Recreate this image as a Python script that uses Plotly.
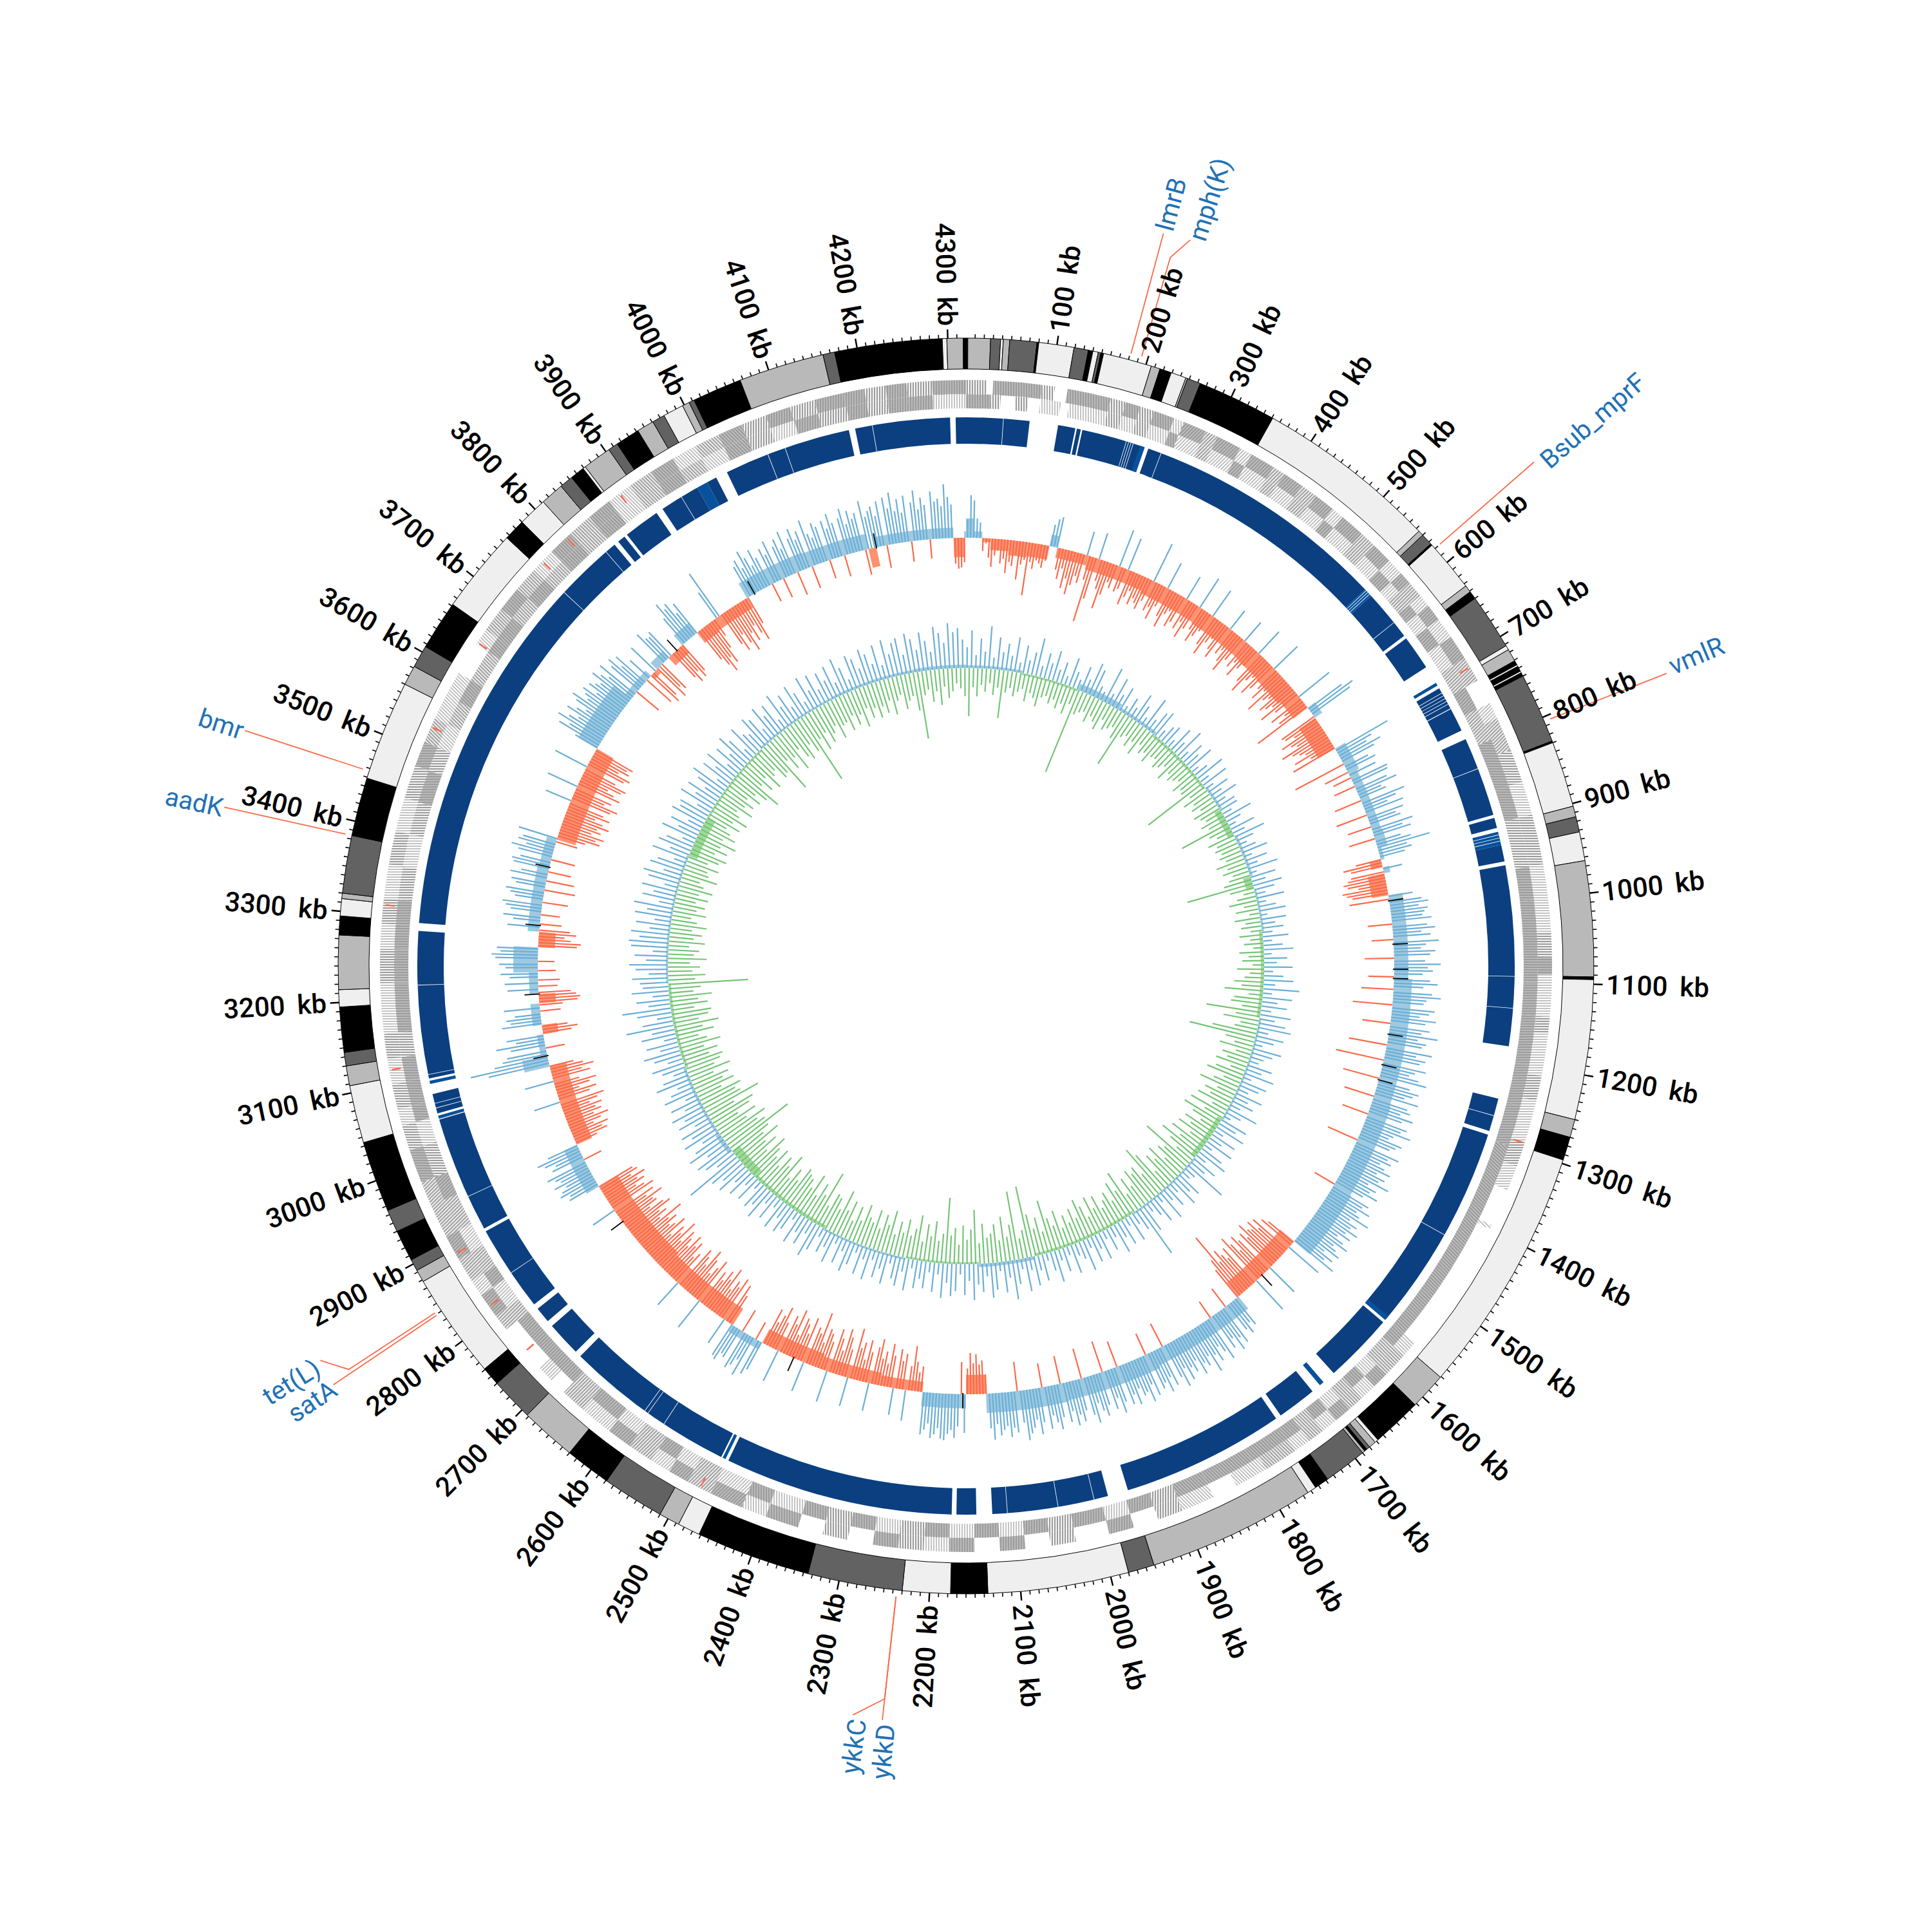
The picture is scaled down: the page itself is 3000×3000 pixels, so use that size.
import math
import plotly.graph_objects as go

GENOME_KB = 4320
TICK_LABELS_KB = list(range(100, 4301, 100))

# outer karyotype ring: segment ends (kb) and shade code
BAND_END = [2,27,38,41,48,78,80,119,135,140,146,149,152,206,216,229,246,248,263,351,554,560,573,575,633,641,650,712,717,731,736,738,744,746,750,828,830,903,915,932,964,1092,1095,1250,1270,1296,1571,1612,1668,1672,1680,1684,1687,1690,1738,1754,1764,1951,1980,2136,2177,2230,2335,2462,2487,2510,2579,2630,2692,2740,2761,2878,2892,2905,2940,2965,3044,3108,3130,3145,3195,3214,3274,3295,3314,3320,3384,3449,3560,3582,3607,3662,3756,3780,3812,3838,3853,3869,3872,3904,3915,3942,3961,3975,3998,4006,4012,4067,4162,4175,4180,4294,4299,4317,4320]
BAND_SHADE = ["k","m","d","l","m","d","k","l","d","k","l","d","k","l","m","k","l","m","d","k","l","m","d","k","l","m","k","d","l","m","k","l","k","l","k","d","k","l","m","d","l","m","k","l","m","k","l","m","k","l","m","d","k","m","d","k","l","m","d","l","k","l","d","k","l","m","d","k","m","d","k","l","m","d","k","d","k","l","m","d","k","l","m","k","l","m","d","k","l","m","d","k","l","k","l","m","d","k","l","m","d","k","m","d","l","m","d","k","m","d","k","k","l","m","k"]
SHADES = {"k": "#000000", "d": "#626262", "m": "#b9b9b9", "l": "#efefef"}

# gene density runs (kb end, density 0..3) on the two strands
OUT_END = [25,32,90,105,120,172,190,208,225,250,262,290,305,335,350,380,395,420,440,465,480,510,530,555,575,590,610,625,645,670,700,730,760,780,820,860,900,960,1040,1070,1090,1140,1160,1210,1240,1290,1320,1350,1395,1400,1560,1580,1610,1630,1650,1670,1690,1710,1730,1750,1790,1830,1860,1900,1930,1960,1990,2030,2060,2090,2120,2150,2180,2210,2240,2270,2300,2330,2360,2400,2430,2470,2500,2525,2550,2580,2610,2650,2680,2700,2720,2780,2800,2830,2850,2880,2910,2950,2980,3020,3050,3070,3100,3130,3160,3220,3260,3290,3320,3360,3400,3440,3480,3510,3540,3570,3600,3640,3660,3690,3720,3750,3780,3810,3840,3870,3900,3930,3960,3990,4020,4050,4080,4110,4140,4175,4200,4225,4250,4280,4320]
OUT_D =   [2,0,3,2,0,3,2,3,2,3,1,3,2,3,1,3,2,3,2,3,1,3,2,3,1,3,2,1,3,1,3,2,0,1,2,2,1,2,1,2,3,1,2,1,2,1,2,1,0,1,0,1,2,3,1,2,3,1,2,1,2,1,0,1,2,0,3,0,2,0,3,0,3,1,2,3,0,2,0,3,1,3,2,3,1,2,3,1,2,0,1,0,2,3,1,2,3,2,2,3,2,1,2,1,2,1,2,1,2,1,2,1,2,3,2,1,1,0,1,2,3,2,1,3,2,3,1,2,3,1,2,3,2,3,2,3,3,2,3,2,3,2,3,2,3,2,3]
IN_END = [30,42,60,75,90,115,125,172,190,208,225,250,262,290,305,335,350,380,395,420,440,465,480,510,530,555,575,590,610,625,645,670,700,730,760,800,860,900,960,1000,1100,1140,1200,1250,1300,1560,1580,1610,1630,1650,1670,1690,1710,1730,1750,1800,1860,1900,1930,1960,1990,2030,2060,2090,2120,2150,2180,2210,2240,2270,2300,2330,2360,2400,2430,2470,2500,2525,2550,2580,2610,2650,2680,2700,2780,2800,2830,2850,2880,2910,2950,2980,3020,3050,3070,3100,3130,3160,3220,3260,3290,3320,3360,3400,3440,3480,3510,3540,3570,3600,3640,3660,3690,3720,3750,3780,3810,3840,3870,3900,3930,3960,3990,4020,4050,4080,4110,4140,4175,4200,4225,4250,4280,4320]
IN_D =   [3,2,0,2,0,1,0,1,2,1,2,1,3,1,2,1,3,1,2,1,2,1,3,1,2,1,3,1,2,3,1,3,1,2,3,2,3,3,2,3,3,3,3,3,3,3,3,2,1,3,2,1,3,2,3,3,3,3,2,3,1,3,2,3,1,3,1,3,2,1,3,2,3,1,3,1,2,1,3,2,1,3,2,3,3,2,1,3,2,1,2,3,2,1,3,3,3,2,3,3,3,3,2,1,2,3,2,1,2,3,2,3,3,2,3,2,3,2,3,1,2,3,2,1,3,2,1,3,2,3,2,3,3,1,3,2,3,2,3,2,3,2,3]
GENE_SOLIDITY = {1: 0.3, 2: 0.55, 3: 0.85}
GENE_MARK_KB = [712,3885,3804,3764,3642,3529,3312,2887,2814,2746,2484,3117,1291]

# solid ring of the coding blocks
BLOCK_START = [4307,0,116,140,147,233,571,640,715,745,787,892,927,953,1248,1295,1566,1690,1747,1980,2147,2178,2478,2704,2756,2783,2897,3053,3098,3294,3848,3862,3917,3982,4010,4180]
BLOCK_END   = [4320,80,138,145,228,560,636,684,744,775,888,905,948,1181,1290,1562,1655,1740,1954,2127,2172,2468,2696,2748,2776,2893,3045,3078,3284,3842,3858,3908,3968,3995,4172,4300]
ALT_START = [222,560,707,910,1556,1672,2472,3046,3091,3968]
ALT_END   = [228,571,711,927,1562,1678,2476,3050,3095,3982]
HAIR_KB = [47,204,207,210,213,250,562,565,568,615,722,726,730,734,738,827,914,918,922,1093,1133,1270,1432,1998,2044,2108,2561,2585,2590,2832,2942,3060,3066,3103,3216,3755,3828,3945,4066,4089,4202]

# skew track: signed values, one per 5 kb
SKEW = [
 28,66,58,30,24,-20,-8,-30,-44,-26,-18,-38,-30,-52,-34,-40,-22,-60,-36,-28,
 -83,-30,-40,-26,-30,-36,-24,34,44,48,-34,-48,-30,-60,-44,-68,-52,-36,-46,38,
 -38,-104,-66,42,-34,-46,-76,-52,-30,-38,60,-40,-34,52,-56,-42,-30,-50,-38,-44,
 -52,-36,64,-48,-40,-58,-34,44,-46,-62,-38,-30,-54,-44,40,-50,-36,-60,-42,53,
 -38,-56,-44,-32,48,-50,-64,-40,-30,-46,-58,36,-44,-34,-52,-66,-42,38,-48,-36,
 -58,-40,-30,46,-54,-70,-44,-34,-62,-48,50,-40,-56,-36,-72,-46,-38,-60,-52,-42,
 -68,-44,60,-58,-36,-50,-95,64,81,72,-62,-58,-44,-70,-56,-48,-78,-62,-52,-44,
 -66,-40,-74,92,60,48,70,56,-85,40,50,-40,45,-30,60,58,-35,52,66,38,
 44,-44,70,54,38,62,-50,58,44,50,-38,66,48,60,-42,40,55,84,46,52,
 40,-40,-61,-50,30,-52,-58,-66,-60,-44,-70,-64,-56,38,-62,50,60,44,58,52,
 48,62,-38,54,66,44,58,-34,70,50,42,64,56,-46,48,72,52,60,44,-40,
 56,68,46,-50,60,74,52,48,-62,66,58,44,70,54,-44,62,50,76,46,60,
 54,-60,72,48,64,56,-76,68,52,44,60,74,-58,50,66,58,46,70,-48,56,
 62,48,70,54,-42,66,58,76,50,44,68,60,52,-50,72,56,64,48,58,70,
 50,66,58,78,46,62,54,70,48,-36,64,56,72,52,60,80,50,66,58,74,
 56,68,48,62,74,52,60,70,46,66,54,76,-50,-60,60,-70,-55,-74,-62,-66,
 -80,-58,-70,53,-64,-76,-52,-68,-84,60,-72,-56,-66,-78,-60,-112,-70,-54,50,42,
 58,48,-35,64,52,70,46,60,-30,72,56,44,66,52,78,48,62,54,70,44,
 60,50,68,46,74,56,-40,64,48,70,52,60,-36,66,46,72,54,58,44,68,
 50,64,-42,56,72,46,62,-50,52,68,58,44,74,60,-48,50,66,54,70,46,
 62,-44,52,70,58,46,66,-38,54,72,48,60,68,78,50,-46,64,56,70,52,
 58,66,48,72,54,-30,-52,-46,-62,-48,-64,-40,60,-50,50,68,56,62,72,70,
 54,64,70,48,58,66,-40,-30,-46,-70,-38,48,-56,-44,-62,42,-50,-68,-36,-54,
 -42,-72,-58,44,-48,-66,-34,-60,-50,-80,46,-44,-62,-74,-38,-56,-70,50,-46,-58,
 -64,-40,-87,-52,-60,48,-72,-44,-58,-66,-36,-76,-50,-62,52,-46,-70,-54,-40,-60,
 48,58,-30,66,42,54,62,-38,50,46,60,56,-50,-66,44,-72,-54,-62,-44,-78,
 -56,-68,-48,-60,52,-74,-58,-44,-66,-80,-50,-62,-72,46,-56,-46,-70,-60,-76,-52,
 -64,-74,-50,-84,-58,-68,-46,-78,-62,-54,-72,-60,-88,-50,-66,-56,-80,-70,-48,-64,
 -60,-80,-54,-70,40,-76,-62,-50,-68,-58,-74,-52,-66,-60,50,46,60,54,44,62,
 48,55,66,-30,52,44,60,70,50,-36,-55,-48,-60,-38,-52,-66,-44,-58,-50,-62,
 -44,-58,-70,42,-50,-62,-36,-54,-66,-40,46,-60,-48,-68,-52,-38,96,123,84,70,
 62,-30,54,76,44,58,-45,-55,-40,62,48,54,40,-32,56,-36,-60,-64,-58,-50,
 48,-30,52,-34,44,58,-28,50,60,-26,66,72,58,64,-60,-66,-50,-40,-58,-48,
 50,-34,42,58,-30,48,56,62,-40,44,52,60,-48,46,54,-44,58,42,-36,56,
 60,48,-38,54,66,44,58,52,-34,62,-44,-66,-58,-70,-48,-62,-54,-72,-60,-46,
 -68,-56,42,-64,-74,-50,-60,50,-70,-58,-46,-66,-72,-52,55,-62,-70,-48,-64,-58,
 -66,40,72,56,80,64,50,74,60,46,68,78,54,62,70,48,66,58,52,72,
 60,48,70,-44,56,66,44,60,-50,40,-58,-48,52,-60,-44,-52,60,46,44,50,
 -50,-62,-46,-60,-52,50,74,60,66,44,58,-56,-70,-84,-62,-74,-50,-30,48,80,
 -56,-70,-44,-62,-78,-50,-66,-42,-58,-72,-46,52,60,44,70,56,40,64,48,-30,
 58,46,66,-32,52,62,44,70,-38,54,68,48,60,-36,74,50,42,64,56,-30,
 62,48,70,54,-34,58,72,46,66,52,60,-40,76,50,58,64,48,70,-36,74,
 56,80,50,68,46,72,-32,60,78,48,66,54,-30,74,58,62,50,84,64,52,
 -40,-48,-46,-38]
SKEW_BAND_END = [12,26,40,70,100,135,148,200,300,400,500,545,600,635,655,714,760,860,887,908,920,930,966,1100,1300,1450,1560,1686,1850,2000,2128,2160,2230,2300,2400,2501,2556,2700,2868,2944,3077,3095,3130,3145,3180,3195,3230,3270,3295,3400,3446,3606,3703,3752,3766,3792,3822,3853,3884,3951,4060,4162,4175,4300,4317,4320]
SKEW_BAND_VAL = [30,10,-6,-18,-24,-22,18,-16,-22,-26,-28,-30,-32,-28,14,-30,18,14,16,6,-18,10,-26,22,28,30,32,-28,24,28,30,-30,22,-16,-20,-24,12,-30,-34,22,-26,40,10,-24,14,-26,14,38,-26,18,16,-30,34,12,-8,14,-16,20,-20,-18,26,24,-30,16,-30,10]
SKEW_BLACK_KB = [975,1045,1085,1100,1190,1240,1265,1635,2165,2445,2800,3095,3195,3305,3400,3810,3965,4175]

# content track: one outward and one inward value per 10 kb
GC_UP = [
 32,58,20,46,26,66,18,50,28,42, 24,54,16,44,22,36,60,18,40,26, 48,20,34,14,46,26,16,40,22,52,
 44,20,14,58,18,48,24,40,12,30, 18,46,30,14,53,20,38,44,16,28, 34,14,42,22,50,16,38,24,44,12,
 24,48,16,44,14,36,20,42,18,30, 30,16,46,24,12,40,20,50,28,14, 26,42,14,36,18,48,12,40,22,46,
 32,16,44,14,28,42,12,40,22,34, 16,40,14,30,46,12,36,20,44,14, 30,46,18,56,14,46,24,40,16,48,
 24,42,52,18,44,30,14,46,34,22, 16,40,26,48,14,42,32,18,44,24, 36,18,50,26,12,44,30,48,16,42,
 22,46,14,38,50,18,42,28,70,20, 16,42,30,48,18,38,22,50,14,44, 28,16,46,85,34,20,44,14,42,26,
 48,18,36,14,44,24,42,16,50,28, 20,46,14,38,18,50,30,12,42,24, 46,20,52,16,38,61,26,48,14,42,
 54,20,44,32,56,26,48,16,42,50, 30,54,18,46,16,42,28,44,14,50, 22,46,36,14,48,26,42,16,50,20,
 46,14,36,50,20,42,14,48,26,38, 16,42,56,22,44,28,50,14,36,46, 26,48,16,42,20,52,34,44,14,42,
 20,46,28,54,40,56,93,34,50,60, 36,64,48,30,58,40,54,26,50,36, 54,28,48,20,52,38,24,56,42,22,
 38,52,24,44,58,30,50,20,54,36, 75,48,24,54,76,34,52,26,58,40, 44,56,30,50,60,34,52,24,58,62,
 46,60,32,54,26,58,40,62,24,52, 36,56,22,50,60,30,54,44,20,58, 32,54,44,20,58,34,50,24,56,46,
 50,24,58,36,54,28,46,60,20,52, 34,56,22,50,30,58,44,18,54,36, 30,54,46,22,56,36,50,18,58,32,
 48,22,54,38,18,56,30,52,24,48, 32,52,22,58,40,18,54,46,28,56, 46,28,56,22,60,36,52,58,30,62,
 52,34,60,46,28,66,56,40,70,56, 62,44]
GC_DOWN = [
 -75,-30,-44,-26,-36,-22,-40,-28,-75,-34, -26,-38,-30,-24,-42,-28,-34,-46,-30,-26, -36,-28,-40,-30,-44,-26,-137,-38,-32,-28,
 -42,-30,-36,-46,-26,-40,-34,-28,-44,-88, -34,-28,-42,-30,-48,-26,-38,-32,-44,-30, -28,-40,-34,-26,-46,-30,-38,-32,-26,-42,
 -32,-36,-105,-28,-44,-30,-38,-26,-42,-34, -28,-40,-30,-81,-36,-26,-44,-32,-38,-30, -36,-28,-46,-30,-40,-26,-34,-44,-105,-38,
 -18,-30,-44,-22,-36,-16,-40,-24,-32,-18, -36,-20,-30,-16,-38,-24,-34,-18,-42,-22, -30,-46,-34,-60,-22,-44,-48,-30,-85,-38,
 -56,-28,-36,-70,-105,-46,-30,-52,-24,-44, -34,-50,-24,-46,-58,-28,-42,-62,-30,-48, -36,-54,-26,-60,-32,-65,-46,-28,-52,-38,
 -56,-30,-60,-40,-70,-50,-32,-88,-46,-54, -34,-62,-44,-56,-30,-68,-84,-40,-58,-50, -60,-36,-54,-30,-73,-44,-62,-34,-52,-42,
 -32,-56,-38,-60,-30,-50,-64,-36,-54,-34, -48,-30,-60,-38,-52,-82,-34,-58,-42,-66, -112,-44,-32,-107,-56,-38,-70,-34,-60,-46,
 -40,-62,-32,-84,-54,-38,-60,-30,-56,-44, -102,-46,-34,-64,-40,-58,-30,-70,-48,-36, -60,-38,-54,-32,-68,-44,-58,-34,-62,-40,
 -46,-64,-36,-56,-30,-60,-42,-72,-38,-54, -58,-34,-88,-46,-62,-38,-70,-44,-56,-60, -66,-40,-56,-34,-72,-48,-60,-38,-64,-46,
 -58,-74,-42,-66,-50,-80,-56,-70,-113,-72, -62,-80,-50,-70,-42,-66,-76,-46,-92,-64, -58,-70,-40,-64,-48,-60,-38,-68,-44,-56,
 -62,-42,-58,-38,-66,-46,-34,-60,-44,-70, -40,-56,-62,-36,-58,-44,-66,-38,-50,-124, -42,-58,-38,-50,-34,-60,-40,-48,-32,-56,
 -38,-50,-34,-56,-40,-30,-52,-36,-48,-32, -50,-34,-54,-38,-30,-56,-40,-36,-52,-32, -48,-58,-36,-54,-40,-63,-38,-56,-44,-34,
 -54,-38,-60,-42,-34,-58,-40,-52,-36,-56, -42,-60,-78,-40,-56,-36,-62,-44,-38,-58, -54,-90,-40,-60,-44,-70,-38,-56,-64,-42,
 -58,-114,-44,-66,-40,-60,-48,-38,-62,-44, -42,-58,-36,-54,-40,-62,-34,-52,-38,-56, -40,-52,-34,-58,-38,-30,-54,-42,-36,-60,
 -105,-38,-30,-50,-34,-56,-28,-46,-36,-24, -32,-44]
GC_BAND_END = [130,265,370,470,640,700,770,870,900,1000,1200,1450,1560,1750,2000,2130,2300,2500,2700,2780,2830,3000,3200,3500,3600,3800,4000,4200,4320]
GC_BAND_VAL = [4,-3,10,5,-4,4,-10,4,-12,3,-5,3,-8,3,-4,5,-3,3,-5,-14,7,4,-4,3,-14,-3,3,4,5]

# annotated genes
GENE_NAMES = ["lmrB","mph(K)","Bsub_mprF","vmlR","ykkC","ykkD","tet(L)","satA","aadK","bmr"]
GENE_LEADER_KB = [[181,181],[193,193,206],[580,581],[805,808],[2236,2236,2263],[2236,2236],[2842,2842,2863],[2839,2838],[3384,3385],[3457,3457]]
GENE_LEADER_R = [[985,1178],[985,1145,1180],[985,1179],[985,1179],[985,1145,1176],[985,1178],[985,1145,1175],[985,1178],[985,1178],[985,1178]]
GENE_LABEL_KB = [181,212,588,804,2258,2232,2860,2836,3384,3456]
GENE_LABEL_R = [1225,1249,1290,1232,1224,1227,1231,1220,1225,1216]

CX = 1500.0
TEXT_FONT = "Roboto, Open Sans, sans-serif"


def th(kb):
    return kb / GENOME_KB * 360.0


def runs(ends):
    return [0] + list(ends[:-1])


def hatch(kb):
    # stripes run along the radius: nearest of the four hatch directions
    t = th(kb) % 180
    if t < 22.5 or t >= 157.5:
        return "|"
    if t < 67.5:
        return "/"
    if t < 112.5:
        return "-"
    return "\\"


fig = go.Figure()


def ring(starts, ends, r0, r1, colors, line=0.0):
    fig.add_trace(go.Barpolar(
        theta=[th((a + b) / 2) for a, b in zip(starts, ends)],
        width=[th(b - a) for a, b in zip(starts, ends)],
        base=[r0] * len(starts), r=[r1 - r0] * len(starts),
        marker=dict(color=colors, line=dict(width=line, color="#000000")),
        hoverinfo="skip", showlegend=False))


def spokes(kbs, r0s, r1s, color, width):
    t, r = [], []
    for k, a, b in zip(kbs, r0s, r1s):
        t += [th(k), th(k), None]
        r += [a, b, None]
    fig.add_trace(go.Scatterpolar(theta=t, r=r, mode="lines", line=dict(color=color, width=width),
                                  hoverinfo="skip", showlegend=False))


# outer ring
ring(runs(BAND_END), BAND_END, 927, 975, [SHADES[s] for s in BAND_SHADE], 1.0)

# ticks
minor = [k for k in range(0, GENOME_KB, 10) if k % 100]
spokes(minor, [975] * len(minor), [981] * len(minor), "#000000", 1.6)
spokes(TICK_LABELS_KB, [975] * len(TICK_LABELS_KB), [989] * len(TICK_LABELS_KB), "#000000", 2.4)

# gene rows
for ends, dens, r0, r1 in [(OUT_END, OUT_D, 888, 910), (IN_END, IN_D, 866, 888)]:
    st = runs(ends)
    keep = [i for i in range(len(ends)) if dens[i] > 0]
    fig.add_trace(go.Barpolar(
        theta=[th((st[i] + ends[i]) / 2) for i in keep],
        width=[th(ends[i] - st[i]) for i in keep],
        base=[r0] * len(keep), r=[r1 - r0] * len(keep),
        marker=dict(color="#ffffff", line=dict(width=0),
                    pattern=dict(shape=[hatch((st[i] + ends[i]) / 2) for i in keep],
                                 solidity=[GENE_SOLIDITY[dens[i]] for i in keep],
                                 size=4, fgcolor="#9c9c9c", bgcolor="#ffffff", fillmode="replace")),
        hoverinfo="skip", showlegend=False))
ring([k - 1 for k in GENE_MARK_KB], [k + 1 for k in GENE_MARK_KB], 892, 906, ["#fb6a4a"] * len(GENE_MARK_KB))

# solid block ring
ring(BLOCK_START, BLOCK_END, 811, 852, ["#0b3f80"] * len(BLOCK_START))
ring(ALT_START, ALT_END, 811, 852, ["#08519c"] * len(ALT_START))
ring([k - 0.35 for k in HAIR_KB], [k + 0.35 for k in HAIR_KB], 811, 852, ["#ffffff"] * len(HAIR_KB))

# skew spikes
R_SKEW = 665
kb5 = [i * 5 + 2.5 for i in range(len(SKEW))]
pos = [(k, v) for k, v in zip(kb5, SKEW) if v > 0]
neg = [(k, v) for k, v in zip(kb5, SKEW) if v < 0]
spokes([p[0] for p in pos], [R_SKEW] * len(pos), [R_SKEW + p[1] for p in pos], "#6baed6", 2.2)
spokes([p[0] for p in neg], [R_SKEW] * len(neg), [R_SKEW + p[1] for p in neg], "#fb6a4a", 2.2)
st = runs(SKEW_BAND_END)
fig.add_trace(go.Barpolar(
    theta=[th((a + b) / 2) for a, b in zip(st, SKEW_BAND_END)],
    width=[th(b - a) for a, b in zip(st, SKEW_BAND_END)],
    base=[R_SKEW + min(v, 0) for v in SKEW_BAND_VAL],
    r=[abs(v) for v in SKEW_BAND_VAL],
    marker=dict(color=["#9ecae1" if v > 0 else "#fc9272" for v in SKEW_BAND_VAL], line=dict(width=0)),
    hoverinfo="skip", showlegend=False))
spokes(SKEW_BLACK_KB, [R_SKEW - 2] * len(SKEW_BLACK_KB), [R_SKEW + 22] * len(SKEW_BLACK_KB), "#000000", 1.8)

# content spikes
R_GC = 463
kb10 = [i * 10 + 2.5 for i in range(len(GC_UP))]
kb10b = [i * 10 + 7.5 for i in range(len(GC_DOWN))]
spokes(kb10, [R_GC] * len(GC_UP), [R_GC + v for v in GC_UP], "#6baed6", 2.2)
spokes(kb10b, [R_GC] * len(GC_DOWN), [R_GC + v for v in GC_DOWN], "#74c476", 2.2)
st = runs(GC_BAND_END)
fig.add_trace(go.Barpolar(
    theta=[th((a + b) / 2) for a, b in zip(st, GC_BAND_END)],
    width=[th(b - a) for a, b in zip(st, GC_BAND_END)],
    base=[R_GC + min(v, 0) for v in GC_BAND_VAL],
    r=[abs(v) for v in GC_BAND_VAL],
    marker=dict(color=["#9ecae1" if v > 0 else "#a1d99b" for v in GC_BAND_VAL], line=dict(width=0)),
    hoverinfo="skip", showlegend=False))

# leaders
for kbs, rs in zip(GENE_LEADER_KB, GENE_LEADER_R):
    fig.add_trace(go.Scatterpolar(theta=[th(k) for k in kbs], r=rs, mode="lines",
                                  line=dict(color="#fb6a4a", width=1.8), hoverinfo="skip", showlegend=False))


def place(kb, r):
    a = math.radians(th(kb))
    return (CX + r * math.sin(a)) / 3000.0, (CX + r * math.cos(a)) / 3000.0


def angle(kb):
    t = th(kb)
    return t - 90 if t < 180 else t - 270


annots = []
for kb in TICK_LABELS_KB:
    n = len(str(kb))
    x, y = place(kb, 997 + (23.6 * n + 61) / 2)
    annots.append(dict(x=x, y=y, xref="paper", yref="paper", xanchor="center", yanchor="middle",
                       text=f"{kb}\u00a0\u2009kb", showarrow=False, textangle=angle(kb),
                       font=dict(family=TEXT_FONT, size=42, color="#000000", weight=500)))
for name, kb, r in zip(GENE_NAMES, GENE_LABEL_KB, GENE_LABEL_R):
    x, y = place(kb, r)
    annots.append(dict(x=x, y=y, xref="paper", yref="paper", xanchor="center", yanchor="middle",
                       text=name, showarrow=False, textangle=angle(kb),
                       font=dict(family=TEXT_FONT, size=40, color="#2171b5")))

fig.update_layout(
    width=3000, height=3000, margin=dict(l=0, r=0, t=0, b=0, pad=0), autosize=False,
    paper_bgcolor="#ffffff", showlegend=False, annotations=annots,
    polar=dict(domain=dict(x=[0, 1], y=[0, 1]), bgcolor="#ffffff", barmode="overlay", bargap=0,
               angularaxis=dict(rotation=90, direction="clockwise", visible=False, thetaunit="degrees"),
               radialaxis=dict(range=[0, 1500], visible=False)))
fig.write_html("out.html", config={"displayModeBar": False}, post_script="document.body.style.margin='0';")
